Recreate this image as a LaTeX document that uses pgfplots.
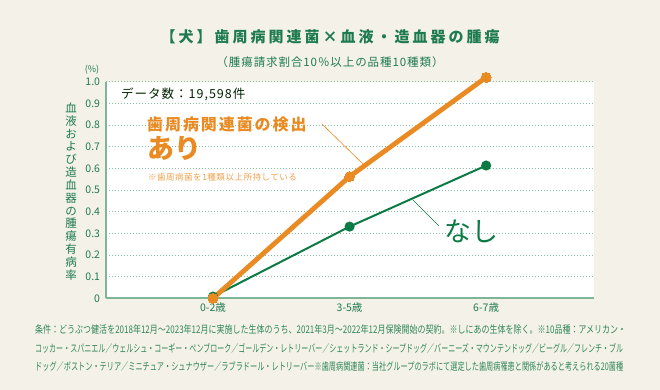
\documentclass[border=0pt]{standalone}
\usepackage{fontspec}
\setmainfont{Noto Sans CJK JP}
\newfontfamily\titlefont[LetterSpace=20]{Noto Sans CJK JP}
\newfontfamily\subfont[LetterSpace=8]{Noto Sans CJK JP}
\newfontfamily\midfont[LetterSpace=12]{Noto Sans CJK JP}
\newfontfamily\smallfont[LetterSpace=6]{Noto Sans CJK JP}
\usepackage{graphicx}
\usepackage{pgfplots}
\pgfplotsset{compat=1.18}
\definecolor{bgc}{HTML}{F4F1E9}
\definecolor{titlec}{HTML}{1E7B50}
\definecolor{orangec}{HTML}{E98B22}
\definecolor{notec}{HTML}{F0A04B}
\definecolor{greenc}{HTML}{0B7A45}
\definecolor{axisc}{HTML}{7DB596}
\definecolor{gridc}{HTML}{8BBFA5}
\definecolor{tickc}{HTML}{1E7B50}
\definecolor{footc}{HTML}{2F8756}
\begin{document}
\begin{tikzpicture}[x=1pt,y=1pt]
\fill[bgc] (0,0) rectangle (660,390);
\useasboundingbox (0,0) rectangle (660,390);
\begin{axis}[
  at={(105.7pt,91.7pt)}, anchor=south west,
  scale only axis, width=488.3pt, height=216.6pt,
  xmin=-0.786, xmax=2.79, ymin=0, ymax=1,
  axis x line*=bottom, axis y line*=left,
  axis line style={color=axisc, line width=1.8pt, -},
  xtick={0,1,2}, xticklabels={0-2歳,3-5歳,6-7歳},
  ytick={0,0.1,0.2,0.3,0.4,0.5,0.6,0.7,0.8,0.9,1.0},
  yticklabels={0,0.1,0.2,0.3,0.4,0.5,0.6,0.7,0.8,0.9,1.0},
  major tick length=0pt,
  ymajorgrids,
  grid style={gridc, dash pattern=on 1.5pt off 1.5pt, line width=0.8pt},
  axis background/.style={fill=white},
  clip=false,
  tick label style={font=\fontsize{10.5}{12}\selectfont, text=tickc},
  yticklabel style={anchor=east, inner sep=0pt, xshift=-5.5pt},
  xticklabel style={anchor=north, inner sep=0pt, yshift=-4pt},
]
\addplot[color=greenc, line width=2pt, mark=*, mark size=4pt, mark options={fill=greenc, draw=greenc}]
  coordinates {(0,0.008) (1,0.331) (2,0.613)};
\addplot[color=orangec, line width=4.8pt, mark=*, mark size=5pt, mark options={fill=orangec, draw=orangec, line width=0pt}]
  coordinates {(0,0.0) (1,0.562) (2,1.02)};
\end{axis}
% title
\node[font=\titlefont\bfseries\fontsize{15}{18}\selectfont, text=titlec] at (330,390-36.5) {【犬】歯周病関連菌×血液・造血器の腫瘍};
\node[font=\subfont\fontsize{11.5}{14}\selectfont, text=titlec] at (330,390-62) {（腫瘍請求割合10％以上の品種10種類）};
% (%)
\node[font=\fontsize{9}{11}\selectfont, text=tickc] at (92,390-70) {(\%)};
% y label
\node[font=\fontsize{11.5}{12.85}\selectfont, text=titlec, align=center, inner sep=0pt] at (71,390-191.5)
 {血\\液\\お\\よ\\び\\造\\血\\器\\の\\腫\\瘍\\有\\病\\率};
% annotations
\node[font=\subfont\fontsize{12.5}{15}\selectfont, text=black!85!green, anchor=west, inner sep=0pt] at (121,390-94) {データ数：19,598件};
\node[font=\midfont\bfseries\fontsize{16}{19}\selectfont, text=orangec, anchor=west, inner sep=0pt] at (147,390-124) {歯周病関連菌の検出};
\node[font=\bfseries\fontsize{27}{30}\selectfont, text=orangec, anchor=west, inner sep=0pt] at (147,390-148) {あり};
\node[font=\smallfont\fontsize{8.5}{10}\selectfont, text=notec, anchor=west, inner sep=0pt] at (148,390-177) {※歯周病菌を1種類以上所持している};
\node[font=\fontsize{27}{30}\selectfont, text=greenc, anchor=west, inner sep=0pt] at (444,390-231) {なし};
\draw[orangec, line width=0.6pt] (322,390-124) -- (363,390-164);
\draw[greenc, line width=0.6pt] (413,390-200) -- (439,390-226);
% footnote
\begin{scope}[every node/.style={font=\fontsize{10.5}{12}\selectfont, text=footc, anchor=west, inner sep=0pt}]
\node at (35,390-330) {\resizebox{591pt}{\height}{条件：どうぶつ健活を2018年12月～2023年12月に実施した生体のうち、2021年3月～2022年12月保険開始の契約。※しにあの生体を除く。※10品種：アメリカン・}};
\node at (35,390-348) {\resizebox{588pt}{\height}{コッカー・スパニエル／ウェルシュ・コーギー・ペンブローク／ゴールデン・レトリーバー／シェットランド・シープドッグ／バーニーズ・マウンテンドッグ／ビーグル／フレンチ・ブル}};
\node at (35,390-366) {\resizebox{588pt}{\height}{ドッグ／ボストン・テリア／ミニチュア・シュナウザー／ラブラドール・レトリーバー※歯周病関連菌：当社グループのラボにて選定した歯周病罹患と関係があると考えられる20菌種}};
\end{scope}
\end{tikzpicture}
\end{document}
